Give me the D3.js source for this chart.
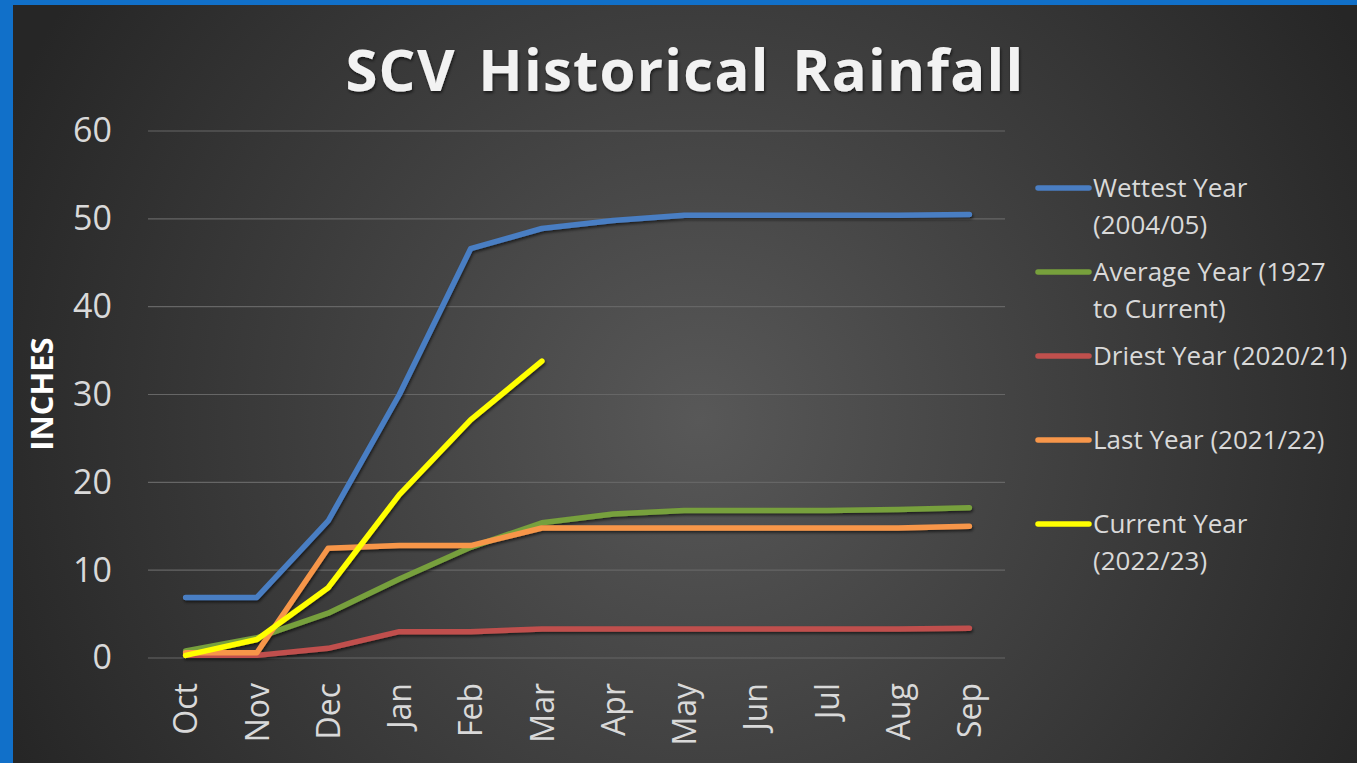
<!DOCTYPE html>
<html>
<head>
<meta charset="utf-8">
<script src="https://cdn.jsdelivr.net/npm/d3@7"></script>
<style>
  body { margin: 0; background: #1170c9; }
  svg { display: block; }
  text { font-family: "Open Sans", "DejaVu Sans", sans-serif; }
</style>
</head>
<body>
<svg width="1357" height="763"></svg>
<script>
var months = ["Oct", "Nov", "Dec", "Jan", "Feb", "Mar", "Apr", "May", "Jun", "Jul", "Aug", "Sep"];
var yTicks = [0, 10, 20, 30, 40, 50, 60];

var wettest = [6.9, 6.9, 15.6, 30.0, 46.6, 48.9, 49.8, 50.4, 50.4, 50.4, 50.4, 50.5];
var average = [0.8, 2.3, 5.1, 9.0, 12.6, 15.4, 16.4, 16.8, 16.8, 16.8, 16.9, 17.1];
var driest  = [0.3, 0.3, 1.1, 3.0, 3.0, 3.3, 3.3, 3.3, 3.3, 3.3, 3.3, 3.4];
var lastYear = [0.6, 0.6, 12.5, 12.8, 12.8, 14.8, 14.8, 14.8, 14.8, 14.8, 14.8, 15.0];
var current = [0.3, 2.1, 8.0, 18.6, 27.1, 33.8];

var seriesNames = [["Wettest Year", "(2004/05)"], ["Average Year (1927", "to Current)"],
                   ["Driest Year (2020/21)"], ["Last Year (2021/22)"], ["Current Year", "(2022/23)"]];
var seriesColors = ["#4a7ec3", "#77a03c", "#c0504d", "#f7964a", "#ffff00"];
var seriesData = [wettest, average, driest, lastYear, current];

var svg = d3.select("svg");
var defs = svg.append("defs");

var grad = defs.append("radialGradient")
    .attr("id", "bg")
    .attr("gradientUnits", "userSpaceOnUse")
    .attr("cx", 700).attr("cy", 420).attr("r", 760);
grad.append("stop").attr("offset", "0%").attr("stop-color", "#585858");
grad.append("stop").attr("offset", "55%").attr("stop-color", "#3c3c3c");
grad.append("stop").attr("offset", "100%").attr("stop-color", "#262626");

var shadow = defs.append("filter").attr("id", "shadow")
    .attr("x", "-10%").attr("y", "-10%").attr("width", "120%").attr("height", "130%");
shadow.append("feDropShadow")
    .attr("dx", 1).attr("dy", 2).attr("stdDeviation", 1.5)
    .attr("flood-color", "#000").attr("flood-opacity", 0.6);

svg.append("rect")
    .attr("x", 13).attr("y", 5)
    .attr("width", 1357 - 13).attr("height", 763 - 5)
    .attr("fill", "url(#bg)");

var plotLeft = 150, plotRight = 1005, plotTop = 131, plotBottom = 658;

var x = d3.scalePoint().domain(months).range([plotLeft, plotRight]).padding(0.5);
var y = d3.scaleLinear().domain([0, 60]).range([plotBottom, plotTop]);

// gridlines
svg.append("g")
  .selectAll("line")
  .data(yTicks)
  .enter()
  .append("line")
    .attr("x1", 148).attr("x2", plotRight)
    .attr("y1", d => y(d)).attr("y2", d => y(d))
    .attr("stroke", "#666")
    .attr("stroke-width", 1.2);

// y axis
var yAxis = svg.append("g")
    .attr("transform", "translate(" + 122 + ",0)")
    .call(d3.axisLeft(y).tickValues(yTicks).tickSize(0).tickPadding(10));
yAxis.select(".domain").remove();
yAxis.selectAll("text")
    .attr("fill", "#d9d9d9")
    .style("font-size", "34px");

// x axis
var xAxis = svg.append("g")
    .attr("transform", "translate(0," + plotBottom + ")")
    .call(d3.axisBottom(x).tickSize(0));
xAxis.select(".domain").remove();
xAxis.selectAll("text")
    .attr("fill", "#d9d9d9")
    .style("font-size", "32px")
    .attr("text-anchor", "end")
    .attr("transform", "rotate(-90)")
    .attr("x", -25)
    .attr("y", 0)
    .attr("dy", "0.35em");

// axis title
svg.append("text")
    .attr("transform", "translate(53,394) rotate(-90)")
    .attr("text-anchor", "middle")
    .attr("fill", "#ffffff")
    .style("font-size", "31px")
    .style("font-weight", "bold")
    .text("INCHES");

// chart title
svg.append("text")
    .attr("x", 685)
    .attr("y", 91)
    .attr("text-anchor", "middle")
    .attr("fill", "#f2f2f2")
    .attr("filter", "url(#shadow)")
    .style("font-size", "58px")
    .style("font-weight", "bold")
    .style("letter-spacing", "1.3px")
    .style("word-spacing", "6px")
    .text("SCV Historical Rainfall");

// lines
var line = d3.line()
    .x((d, i) => x(months[i]))
    .y(d => y(d));

svg.append("g")
    .attr("filter", "url(#shadow)")
  .selectAll("path")
  .data(seriesData)
  .enter()
  .append("path")
    .attr("d", d => line(d))
    .attr("fill", "none")
    .attr("stroke", (d, i) => seriesColors[i])
    .attr("stroke-width", 5.5)
    .attr("stroke-linecap", "round")
    .attr("stroke-linejoin", "round");

// legend
var legendY = [188, 272, 356, 440, 524];
var legend = svg.append("g");
seriesNames.forEach(function (lines, i) {
  var g = legend.append("g").attr("transform", "translate(0," + legendY[i] + ")");
  g.append("line")
      .attr("x1", 1038).attr("x2", 1089)
      .attr("y1", 0).attr("y2", 0)
      .attr("stroke", seriesColors[i])
      .attr("stroke-width", 5.5)
      .attr("stroke-linecap", "round");
  lines.forEach(function (t, j) {
    g.append("text")
        .attr("x", 1093)
        .attr("y", j * 37)
        .attr("dy", "0.35em")
        .attr("fill", "#d9d9d9")
        .style("font-size", "26px")
        .text(t);
  });
});
</script>
</body>
</html>
